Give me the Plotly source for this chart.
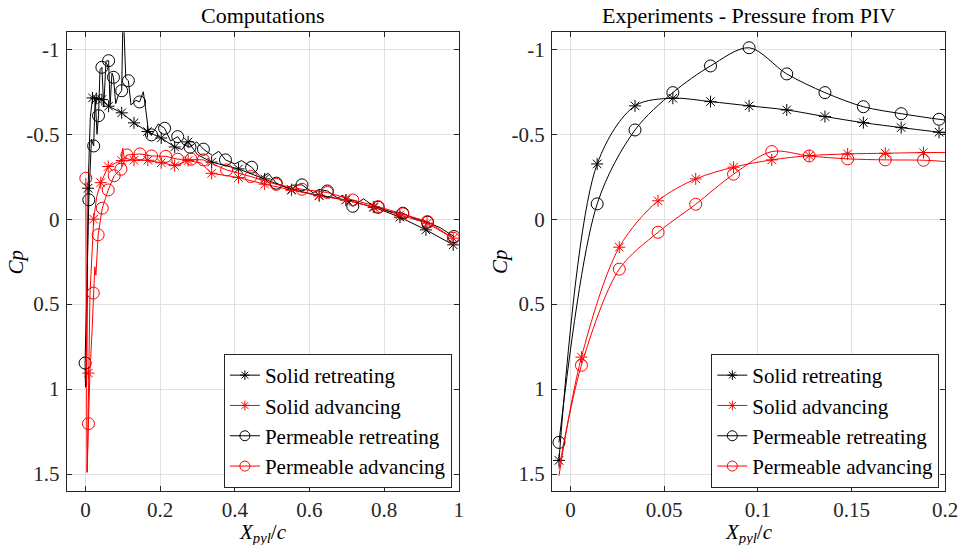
import plotly.graph_objects as go

# ---------------------------------------------------------------- data ----
# Computations: Cp along the pylon surface (x/c), ordered along the surface.
comp_solid_ret_x = [0.003, 0.007, 0.013, 0.019, 0.029, 0.044, 0.062, 0.097, 0.130, 0.166,
                    0.203, 0.239, 0.258, 0.275, 0.300, 0.338, 0.410, 0.480, 0.552, 0.626,
                    0.698, 0.773, 0.8425, 0.912, 0.985]
comp_solid_ret_cp = [0.98, -0.182, -0.60, -0.714, -0.71, -0.704, -0.665, -0.626, -0.567, -0.516,
                     -0.478, -0.425, -0.41, -0.455, -0.38, -0.336, -0.296, -0.237, -0.174, -0.14,
                     -0.113, -0.07, -0.012, 0.063, 0.151]
comp_solid_ret_marked = [1, 3, 4, 5, 6, 7, 8, 9, 10, 11, 13, 15, 16, 17, 18, 19, 20, 21, 22, 23, 24]

comp_solid_adv_x = [0.005, 0.008, 0.012, 0.022, 0.030, 0.041, 0.061, 0.085, 0.097, 0.0996,
                    0.104, 0.130, 0.167, 0.203, 0.239, 0.275, 0.310, 0.338, 0.410, 0.480,
                    0.552, 0.626, 0.697, 0.771, 0.842, 0.915, 0.985]
comp_solid_adv_cp = [1.49, 0.906, 0.45, 0.0, -0.13, -0.215, -0.31, -0.335, -0.345, -0.418,
                     -0.36, -0.347, -0.347, -0.332, -0.315, -0.345, -0.33, -0.27, -0.245, -0.206,
                     -0.17, -0.137, -0.113, -0.072, -0.025, 0.024, 0.112]
comp_solid_adv_marked = [1, 3, 5, 6, 8, 11, 12, 13, 14, 15, 17, 18, 19, 20, 21, 22, 23, 24, 25, 26]

comp_perm_ret_x = [0.000, -0.001, 0.009, 0.016, 0.022, 0.026, 0.031, 0.035, 0.039, 0.044,
                   0.049, 0.055, 0.062, 0.066, 0.071, 0.075, 0.081, 0.088, 0.097, 0.101,
                   0.108, 0.115, 0.122, 0.135, 0.145, 0.155, 0.163, 0.168, 0.177, 0.195,
                   0.212, 0.228, 0.247, 0.262, 0.280, 0.298, 0.316, 0.340, 0.357, 0.375,
                   0.400, 0.418, 0.445, 0.470, 0.490, 0.511, 0.540, 0.555, 0.580, 0.610,
                   0.625, 0.648, 0.675, 0.690, 0.716, 0.745, 0.760, 0.784, 0.815, 0.850,
                   0.880, 0.916, 0.950, 0.987]
comp_perm_ret_cp = [0.99, 0.847, -0.114, -0.47, -0.431, -0.72, -0.50, -0.609, -0.88, -0.894,
                    -0.66, -0.93, -0.933, -0.67, -0.86, -0.835, -0.68, -0.73, -0.756, -1.25,
                    -0.83, -0.815, -0.672, -0.70, -0.69, -0.75, -0.62, -0.53, -0.496, -0.56,
                    -0.535, -0.46, -0.486, -0.44, -0.424, -0.455, -0.412, -0.375, -0.40, -0.349,
                    -0.325, -0.345, -0.306, -0.245, -0.27, -0.212, -0.185, -0.20, -0.202, -0.155,
                    -0.175, -0.166, -0.125, -0.14, -0.076, -0.12, -0.095, -0.07, -0.045, -0.035,
                    -0.005, 0.018, 0.05, 0.102]
comp_perm_ret_marked = [1, 2, 4, 7, 9, 12, 15, 18, 21, 24, 28, 30, 32, 34, 36, 39, 42, 45,
                        48, 51, 54, 57, 59, 61, 63]

comp_perm_adv_x = [0.001, 0.002, 0.004, 0.008, 0.012, 0.017, 0.021, 0.025, 0.028, 0.031,
                   0.034, 0.045, 0.061, 0.077, 0.095, 0.111, 0.146, 0.177, 0.215, 0.247,
                   0.283, 0.316, 0.378, 0.443, 0.511, 0.580, 0.648, 0.716, 0.784, 0.850,
                   0.916, 0.985]
comp_perm_adv_cp = [-0.241, 0.5, 1.49, 1.204, 0.9, 0.69, 0.435, 0.28, 0.33, 0.20,
                    0.092, -0.065, -0.172, -0.256, -0.294, -0.378, -0.384, -0.372, -0.37, -0.353,
                    -0.353, -0.349, -0.29, -0.251, -0.205, -0.176, -0.157, -0.113, -0.074, -0.031,
                    0.014, 0.112]
comp_perm_adv_marked = [0, 3, 6, 10, 11, 12, 13, 14, 15, 16, 17, 18, 19, 20, 21, 22, 23, 24,
                        25, 26, 27, 28, 29, 30, 31]

# Experiments: pressure reconstructed from PIV near the leading edge.
exp_ret_x = [-0.0062, 0.0142, 0.0344, 0.0546, 0.0747, 0.0953, 0.1154, 0.1358, 0.1563, 0.1765,
             0.1967, 0.2005]
exp_solid_ret_cp = [1.42, -0.325, -0.667, -0.712, -0.692, -0.667, -0.643, -0.604, -0.568, -0.539,
                    -0.512, -0.507]
exp_perm_ret_cp = [1.314, -0.09, -0.525, -0.745, -0.902, -1.009, -0.855, -0.745, -0.662, -0.621,
                   -0.588, -0.583]
exp_ret_marked = [0, 1, 2, 3, 4, 5, 6, 7, 8, 9, 10]

exp_adv_x = [-0.0062, 0.0058, 0.026, 0.0467, 0.0668, 0.087, 0.1074, 0.1274, 0.1479, 0.168,
             0.1884, 0.2005]
exp_solid_adv_cp = [1.51, 0.812, 0.165, -0.108, -0.237, -0.306, -0.349, -0.374, -0.384, -0.388,
                    -0.392, -0.392]
exp_perm_adv_cp = [1.47, 0.86, 0.294, 0.077, -0.088, -0.265, -0.398, -0.372, -0.355, -0.349,
                   -0.347, -0.339]
exp_adv_marked = [1, 2, 3, 4, 5, 6, 7, 8, 9, 10]

series_names = ["Solid retreating", "Solid advancing", "Permeable retreating", "Permeable advancing"]

x_ticks_comp = [0, 0.2, 0.4, 0.6, 0.8, 1]
x_labels_comp = ["0", "0.2", "0.4", "0.6", "0.8", "1"]
x_ticks_exp = [0, 0.05, 0.1, 0.15, 0.2]
x_labels_exp = ["0", "0.05", "0.1", "0.15", "0.2"]
cp_ticks = [-1, -0.5, 0, 0.5, 1, 1.5]
cp_labels = ["-1", "-0.5", "0", "0.5", "1", "1.5"]

# --------------------------------------------------------------- style ----
FONT = "Times New Roman"
BLACK = "#000000"
RED = "#ff0000"
AX = "#262626"
STAR = dict(symbol="asterisk-open", size=10)
RING = dict(symbol="circle-open", size=12)

fig = go.Figure()


def add_series(x, cp, marked, color, mk, xa, ya, shape):
    line = dict(color=color, width=1, shape=shape)
    if shape == "spline":
        line["smoothing"] = 0.9
    fig.add_trace(go.Scatter(x=x, y=cp, mode="lines", line=line, xaxis=xa, yaxis=ya,
                             showlegend=False, hoverinfo="skip"))
    fig.add_trace(go.Scatter(x=[x[i] for i in marked], y=[cp[i] for i in marked],
                             mode="markers", xaxis=xa, yaxis=ya, showlegend=False,
                             marker=dict(symbol=mk["symbol"], size=mk["size"], color=color,
                                         line=dict(width=1, color=color))))


def add_legend_entry(name, color, mk, xa, ya, legend):
    fig.add_trace(go.Scatter(x=[None], y=[None], mode="lines+markers", name=name,
                             xaxis=xa, yaxis=ya, legend=legend,
                             line=dict(color=color, width=1),
                             marker=dict(symbol=mk["symbol"], size=mk["size"] - 2, color=color,
                                         line=dict(width=1, color=color))))


styles = [(BLACK, STAR), (RED, STAR), (BLACK, RING), (RED, RING)]

comp = [(comp_solid_ret_x, comp_solid_ret_cp, comp_solid_ret_marked),
        (comp_solid_adv_x, comp_solid_adv_cp, comp_solid_adv_marked),
        (comp_perm_ret_x, comp_perm_ret_cp, comp_perm_ret_marked),
        (comp_perm_adv_x, comp_perm_adv_cp, comp_perm_adv_marked)]
exp = [(exp_ret_x, exp_solid_ret_cp, exp_ret_marked),
       (exp_adv_x, exp_solid_adv_cp, exp_adv_marked),
       (exp_ret_x, exp_perm_ret_cp, exp_ret_marked),
       (exp_adv_x, exp_perm_adv_cp, exp_adv_marked)]

for (x, cp, mk_idx), (color, mk) in zip(comp, styles):
    add_series(x, cp, mk_idx, color, mk, "x", "y", "linear")
for (x, cp, mk_idx), (color, mk) in zip(exp, styles):
    add_series(x, cp, mk_idx, color, mk, "x2", "y2", "spline")
for name, (color, mk) in zip(series_names, styles):
    add_legend_entry(name, color, mk, "x", "y", "legend")
for name, (color, mk) in zip(series_names, styles):
    add_legend_entry(name, color, mk, "x2", "y2", "legend2")

W, H = 975, 545
axis_common = dict(showline=True, linecolor=AX, linewidth=1, mirror="ticks",
                   ticks="inside", ticklen=5, tickcolor=AX, tickwidth=1,
                   showgrid=True, gridcolor="#e0e0e0", gridwidth=1, zeroline=False,
                   tickfont=dict(family=FONT, size=21, color=AX))

y_dom = [1 - 491 / H, 1 - 32.3 / H]
legend_common = dict(xanchor="right", yanchor="bottom", bgcolor="white", bordercolor=AX,
                     borderwidth=1, tracegroupgap=0, itemwidth=30,
                     font=dict(family=FONT, size=21, color=BLACK))
fig.update_layout(
    width=W, height=H, margin=dict(l=0, r=0, t=0, b=0),
    paper_bgcolor="white", plot_bgcolor="white",
    font=dict(family=FONT, size=21, color=AX),
    xaxis=dict(domain=[67.7 / W, 465 / W], range=[-0.05, 1], anchor="y",
               tickvals=x_ticks_comp, ticktext=x_labels_comp, **axis_common),
    yaxis=dict(domain=y_dom, range=[1.6, -1.1], anchor="x",
               tickvals=cp_ticks, ticktext=cp_labels, ticklabelstandoff=2, **axis_common),
    xaxis2=dict(domain=[559.3 / W, 958 / W], range=[-0.01, 0.2], anchor="y2",
                tickvals=x_ticks_exp, ticktext=x_labels_exp, **axis_common),
    yaxis2=dict(domain=y_dom, range=[1.6, -1.1], anchor="x2",
                tickvals=cp_ticks, ticktext=cp_labels, ticklabelstandoff=2, **axis_common),
    legend=dict(x=458 / W, y=1 - 488 / H, **legend_common),
    legend2=dict(x=952 / W, y=1 - 488 / H, **legend_common),
    showlegend=True,
)

title_font = dict(family=FONT, size=22, color=BLACK)
label_font = dict(family=FONT, size=21, color=BLACK)
xlab = "<i>X</i><sub><i>pyl</i></sub>/<i>c</i>"
for cx, title, ylx in [((67.7 + 465) / 2, "Computations", 16),
                       ((559.3 + 958) / 2, "Experiments - Pressure from PIV", 506)]:
    fig.add_annotation(x=cx / W, y=1 - 15 / H, xref="paper", yref="paper", text=title,
                       showarrow=False, font=title_font, xanchor="center", yanchor="middle")
    fig.add_annotation(x=cx / W, y=1 - 533 / H, xref="paper", yref="paper", text=xlab,
                       showarrow=False, font=label_font, xanchor="center", yanchor="middle")
    fig.add_annotation(x=ylx / W, y=1 - 261.7 / H, xref="paper", yref="paper", text="<i>Cp</i>",
                       showarrow=False, font=label_font, textangle=-90,
                       xanchor="center", yanchor="middle")

fig.write_html("out.html")
